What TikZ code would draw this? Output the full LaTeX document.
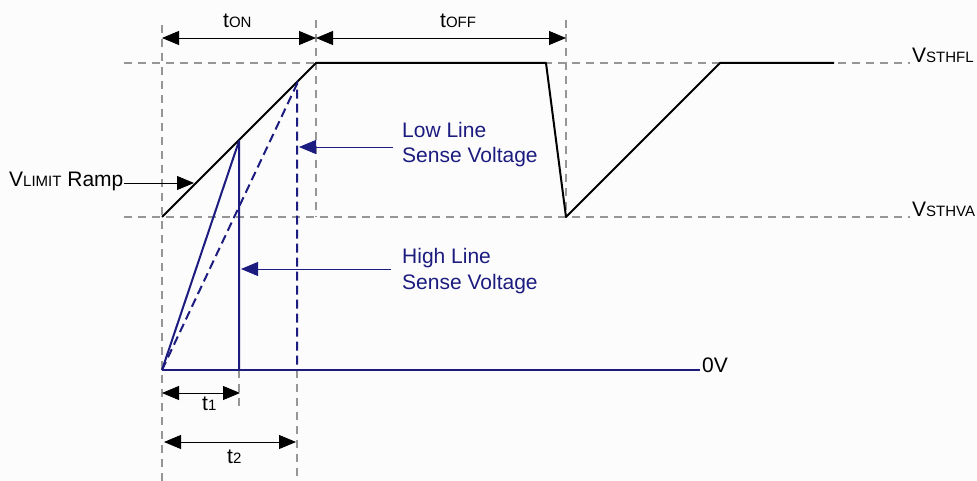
\documentclass[tikz,border=0pt]{standalone}
\usepackage{fontspec}
\setmainfont{Liberation Sans}
\usetikzlibrary{arrows.meta}
\definecolor{navy}{RGB}{28,28,128}
\definecolor{guidegray}{RGB}{150,150,150}
\definecolor{bg}{RGB}{252,252,252}
\newcommand\smc[1]{{\fontsize{15}{17}\selectfont #1}}
\tikzset{
  guide/.style={guidegray, line width=1.2pt, dash pattern=on 8pt off 6pt},
  wave/.style={black, line width=2pt, line join=round},
  bluewave/.style={navy, line width=2pt, line join=round},
  bluedash/.style={navy, line width=2pt, dash pattern=on 9pt off 5pt},
  dimarrow/.style={black, line width=0.9pt, {Triangle[length=17pt,width=14pt]}-{Triangle[length=17pt,width=14pt]}},
  pointer/.style={line width=0.9pt, -{Triangle[length=17pt,width=14pt]}},
  lbl/.style={inner sep=0pt, anchor=base west, font=\fontsize{21}{24}\selectfont},
}
\begin{document}
\begin{tikzpicture}[x=1pt,y=-1pt]
\fill[bg] (0,0) rectangle (977,481);
\useasboundingbox (0,0) rectangle (977,481);
% key coordinates
\coordinate (g1L) at (124,63);  \coordinate (g1R) at (910,63);
\coordinate (g2L) at (124,217); \coordinate (g2R) at (910,217);
\coordinate (v0T) at (162,25);  \coordinate (v0B) at (162,481);
\coordinate (vonT) at (316,20); \coordinate (vonB) at (316,217);
\coordinate (voffT) at (566,20); \coordinate (voffB) at (566,217);
\coordinate (v1T) at (239,370); \coordinate (v1B) at (239,410);
\coordinate (v2T) at (297,370); \coordinate (v2B) at (297,481);
% guides
\draw[guide] (g1L) -- (g1R);
\draw[guide] (g2L) -- (g2R);
\draw[guide] (v0T) -- (v0B);
\draw[guide] (vonT) -- (vonB);
\draw[guide] (voffT) -- (voffB);
\draw[guide] (v1T) -- (v1B);
\draw[guide] (v2T) -- (v2B);
% black waveform
\coordinate (w0) at (162,217);
\coordinate (w1) at (316,63);
\coordinate (w2) at (546,63);
\coordinate (w3) at (566,217);
\coordinate (w4) at (720,63);
\coordinate (w5) at (834,63);
\draw[wave] (w0) -- (w1) -- (w2) -- (w3) -- (w4) -- (w5);
% blue
\coordinate (b0) at (162,370);
\coordinate (bh) at (239,141);
\coordinate (bhb) at (239,370);
\coordinate (bl) at (297,84);
\coordinate (blb) at (297,370);
\coordinate (bend) at (700,370);
\draw[bluewave] (b0) -- (bend);
\draw[bluewave] (b0) -- (bh) -- (bhb);
\draw[bluedash] (b0) -- (bl) -- (blb);
% dimension arrows
\coordinate (ton1) at (162,38); \coordinate (ton2) at (316,38);
\coordinate (toff1) at (316,38); \coordinate (toff2) at (566,38);
\coordinate (t11) at (162,393); \coordinate (t12) at (240,393);
\coordinate (t21) at (164,442); \coordinate (t22) at (296,442);
\draw[dimarrow] (ton1) -- (ton2);
\draw[dimarrow] (toff1) -- (toff2);
\draw[dimarrow] (t11) -- (t12);
\draw[dimarrow] (t21) -- (t22);
\node[lbl] (lton) at (223,28) {t\smc{ON}};
\node[lbl] (ltoff) at (440,28) {t\smc{OFF}};
\node[lbl] (lt1) at (202,410) {t\smc{1}};
\node[lbl] (lt2) at (227,463) {t\smc{2}};
% right labels
\node[lbl] (lfl) at (912,63) {V\smc{STHFL}};
\node[lbl] (lva) at (912,217) {V\smc{STHVA}};
\node[lbl] (l0v) at (702,372) {0V};
% Vlimit ramp
\node[lbl] (lvl) at (9,187) {V\smc{LIMIT} Ramp};
\coordinate (vlS) at (124,183);
\coordinate (vlE) at (194,183);
\draw[pointer, black] (vlS) -- (vlE);
% low line
\node[lbl, navy] (llow1) at (402,138) {Low Line};
\node[lbl, navy] (llow2) at (402,163) {Sense Voltage};
\coordinate (llS) at (393,147);
\coordinate (llE) at (299,147);
\draw[pointer, navy] (llS) -- (llE);
% high line
\node[lbl, navy] (lhigh1) at (402,263) {High Line};
\node[lbl, navy] (lhigh2) at (402,289) {Sense Voltage};
\coordinate (hlS) at (391,269);
\coordinate (hlE) at (241,269);
\draw[pointer, navy] (hlS) -- (hlE);
\end{tikzpicture}
\end{document}
